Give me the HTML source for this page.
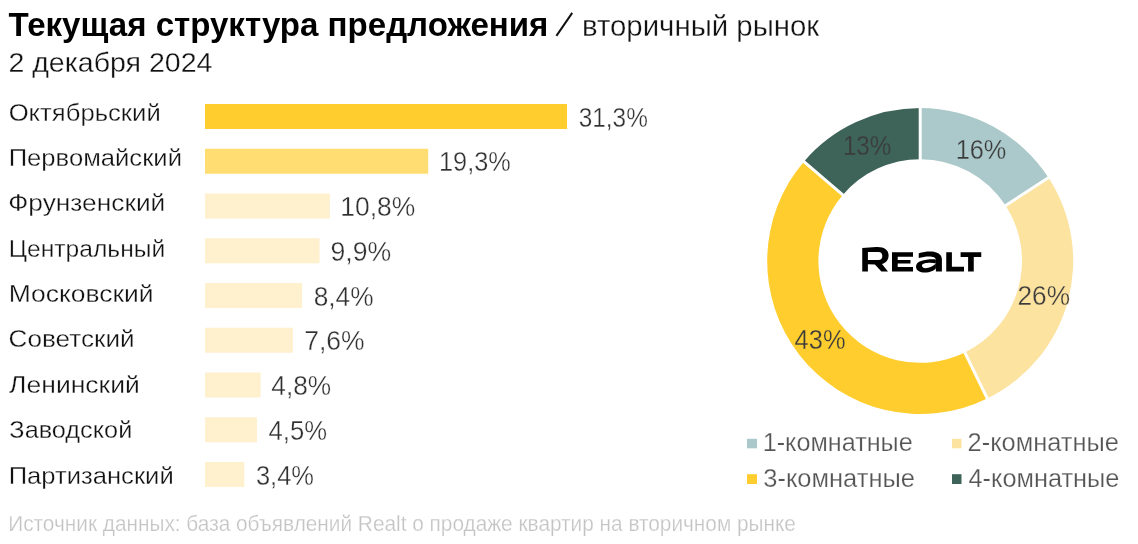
<!DOCTYPE html>
<html lang="ru">
<head>
<meta charset="utf-8">
<title>Текущая структура предложения — вторичный рынок</title>
<style>
html,body{margin:0;padding:0;background:#fff;}
body{width:1138px;height:544px;overflow:hidden;position:relative;font-family:"Liberation Sans",sans-serif;}
svg{position:absolute;left:0;top:0;display:block;will-change:transform;}
text{font-family:"Liberation Sans",sans-serif;}
</style>
</head>
<body>
<svg width="1138" height="544" viewBox="0 0 1138 544">
  <path d="M556.4,35.9 L572.2,12.9" stroke="#111" stroke-width="2.0" fill="none"/>
  <g>
    <rect x="205" y="104.0" width="362.00" height="25" fill="#FFCE2E"/>
    <rect x="205" y="148.75" width="223.20" height="25" fill="#FFDD72"/>
    <rect x="205" y="193.5" width="124.90" height="25" fill="#FFF0CE"/>
    <rect x="205" y="238.25" width="114.50" height="25" fill="#FFF0CE"/>
    <rect x="205" y="283.0" width="97.10" height="25" fill="#FFF0CE"/>
    <rect x="205" y="327.75" width="87.90" height="25" fill="#FFF0CE"/>
    <rect x="205" y="372.5" width="55.50" height="25" fill="#FFF0CE"/>
    <rect x="205" y="417.25" width="52.00" height="25" fill="#FFF0CE"/>
    <rect x="205" y="462.0" width="39.30" height="25" fill="#FFF0CE"/>
  </g>
  <g>
    <path d="M920.20,108.00 A153.00,153.00 0 0 1 1048.52,177.67 L1005.58,205.56 A101.80,101.80 0 0 0 920.20,159.20 Z" fill="#ABC9CA"/>
    <path d="M1048.52,177.67 A153.00,153.00 0 0 1 987.27,398.52 L964.83,352.50 A101.80,101.80 0 0 0 1005.58,205.56 Z" fill="#FDE3A0"/>
    <path d="M987.27,398.52 A153.00,153.00 0 0 1 803.86,161.63 L842.79,194.89 A101.80,101.80 0 0 0 964.83,352.50 Z" fill="#FFCE2E"/>
    <path d="M803.86,161.63 A153.00,153.00 0 0 1 920.20,108.00 L920.20,159.20 A101.80,101.80 0 0 0 842.79,194.89 Z" fill="#3E6358"/>
  </g>
  <g stroke="#fff" stroke-width="3" fill="none">
    <path d="M920.20,162.20 L920.20,105.00"/>
    <path d="M1003.06,207.19 L1051.03,176.04"/>
    <path d="M963.51,349.80 L988.59,401.21"/>
    <path d="M845.07,196.83 L801.58,159.69"/>
  </g>
  <g fill="#000">
    <path fill-rule="evenodd" d="M862.25,247.9 L876.1,247 C884,246.6 888.6,249.5 888.6,255.6 C888.6,260 886,263 882,264 L888,271.4 L881.4,271.4 L874.9,264.4 L867.9,264.3 L867.9,271.4 L862.25,271.4 Z M867.9,252.1 L878.6,251.9 C881,251.9 882.3,253.5 882.3,256 C882.3,258.5 881,260.1 878.6,260.1 L867.9,260.1 Z"/>
    <path fill-rule="evenodd" d="M892,252.3 H913 V256.7 H897.7 V260.1 H910.5 V263.6 H897.7 V267 H913 V271.4 H892 Z"/>
    <path fill-rule="evenodd" d="M918.75,253.3 C922.5,252 926.5,251.4 930,251.4 C937.5,251.4 941.9,254.5 941.9,259.5 V271.4 H935.9 V260 C935.9,257.5 933,256.4 929,256.4 C925.5,256.4 922,257 918.75,258 Z"/>
    <path fill-rule="evenodd" d="M935.9,259.4 C927,258.8 916,260.5 916,266.5 C916,270.5 920,272.6 925,272.6 C930,272.6 934,270.5 935.9,268.5 Z M935.9,263.4 C931,262.4 922,262.6 922,265.6 C922,267.4 923.5,268.3 925.5,268.3 C929.5,268.3 933.5,266 935.9,263.6 Z"/>
    <path fill-rule="evenodd" d="M946.25,252.3 H951.9 V266.7 H964 V271.4 H946.25 Z"/>
    <path fill-rule="evenodd" d="M960.6,252.3 H981.25 V257 H973.75 V271.4 H968.1 V257 H960.6 Z"/>
  </g>
  <rect x="747" y="438.8" width="10" height="9.5" fill="#ABC9CA"/>
  <rect x="952" y="438.8" width="9.5" height="9.5" fill="#FDE3A0"/>
  <rect x="747" y="474.2" width="10" height="9.8" fill="#FFCE2E"/>
  <rect x="952" y="474.2" width="9.5" height="9.8" fill="#3E6358"/>
  <text x="8.64" y="35.90" font-size="32.8" fill="#000" font-weight="bold" textLength="539.77" lengthAdjust="spacingAndGlyphs">Текущая структура предложения</text>
  <text x="581.94" y="35.90" font-size="28.9" fill="#111" stroke="#fff" stroke-width="0.3" textLength="237.28" lengthAdjust="spacingAndGlyphs">вторичный рынок</text>
  <text x="8.42" y="71.50" font-size="28" fill="#111" stroke="#fff" stroke-width="0.3" textLength="204.09" lengthAdjust="spacingAndGlyphs">2 декабря 2024</text>
  <text x="8.70" y="120.50" font-size="24.5" fill="#111" stroke="#fff" stroke-width="0.3" textLength="152.02" lengthAdjust="spacingAndGlyphs">Октябрьский</text>
  <text x="8.69" y="166.00" font-size="24.5" fill="#111" stroke="#fff" stroke-width="0.3" textLength="173.32" lengthAdjust="spacingAndGlyphs">Первомайский</text>
  <text x="8.38" y="211.30" font-size="24.5" fill="#111" stroke="#fff" stroke-width="0.3" textLength="156.90" lengthAdjust="spacingAndGlyphs">Фрунзенский</text>
  <text x="8.88" y="256.80" font-size="24.5" fill="#111" stroke="#fff" stroke-width="0.3" textLength="156.26" lengthAdjust="spacingAndGlyphs">Центральный</text>
  <text x="8.70" y="302.00" font-size="24.5" fill="#111" stroke="#fff" stroke-width="0.3" textLength="144.85" lengthAdjust="spacingAndGlyphs">Московский</text>
  <text x="8.64" y="347.40" font-size="24.5" fill="#111" stroke="#fff" stroke-width="0.3" textLength="126.06" lengthAdjust="spacingAndGlyphs">Советский</text>
  <text x="9.12" y="392.90" font-size="24.5" fill="#111" stroke="#fff" stroke-width="0.3" textLength="130.70" lengthAdjust="spacingAndGlyphs">Ленинский</text>
  <text x="9.38" y="438.30" font-size="24.5" fill="#111" stroke="#fff" stroke-width="0.3" textLength="122.91" lengthAdjust="spacingAndGlyphs">Заводской</text>
  <text x="8.69" y="484.00" font-size="24.5" fill="#111" stroke="#fff" stroke-width="0.3" textLength="165.00" lengthAdjust="spacingAndGlyphs">Партизанский</text>
  <text x="578.72" y="126.70" font-size="27" fill="#303030" stroke="#fff" stroke-width="0.35" textLength="69.09" lengthAdjust="spacingAndGlyphs">31,3%</text>
  <text x="438.97" y="171.45" font-size="27" fill="#303030" stroke="#fff" stroke-width="0.35" textLength="71.81" lengthAdjust="spacingAndGlyphs">19,3%</text>
  <text x="340.25" y="216.20" font-size="27" fill="#303030" stroke="#fff" stroke-width="0.35" textLength="75.00" lengthAdjust="spacingAndGlyphs">10,8%</text>
  <text x="330.48" y="260.95" font-size="27" fill="#303030" stroke="#fff" stroke-width="0.35" textLength="60.69" lengthAdjust="spacingAndGlyphs">9,9%</text>
  <text x="313.69" y="305.70" font-size="27" fill="#303030" stroke="#fff" stroke-width="0.35" textLength="59.93" lengthAdjust="spacingAndGlyphs">8,4%</text>
  <text x="304.28" y="350.45" font-size="27" fill="#303030" stroke="#fff" stroke-width="0.35" textLength="60.43" lengthAdjust="spacingAndGlyphs">7,6%</text>
  <text x="271.34" y="395.20" font-size="27" fill="#303030" stroke="#fff" stroke-width="0.35" textLength="59.84" lengthAdjust="spacingAndGlyphs">4,8%</text>
  <text x="268.50" y="439.95" font-size="27" fill="#303030" stroke="#fff" stroke-width="0.35" textLength="58.51" lengthAdjust="spacingAndGlyphs">4,5%</text>
  <text x="255.88" y="484.70" font-size="27" fill="#303030" stroke="#fff" stroke-width="0.35" textLength="58.09" lengthAdjust="spacingAndGlyphs">3,4%</text>
  <text x="842.89" y="155.00" font-size="27" fill="#3b3b3b" stroke="#3E6358" stroke-width="0.3" textLength="48.43" lengthAdjust="spacingAndGlyphs">13%</text>
  <text x="955.63" y="158.70" font-size="27" fill="#3b3b3b" stroke="#ABC9CA" stroke-width="0.3" textLength="50.66" lengthAdjust="spacingAndGlyphs">16%</text>
  <text x="1017.48" y="304.90" font-size="27" fill="#3b3b3b" stroke="#FDE3A0" stroke-width="0.3" textLength="52.50" lengthAdjust="spacingAndGlyphs">26%</text>
  <text x="794.58" y="348.60" font-size="27" fill="#3b3b3b" stroke="#FFCE2E" stroke-width="0.3" textLength="50.93" lengthAdjust="spacingAndGlyphs">43%</text>
  <text x="762.71" y="451.00" font-size="26" fill="#555" stroke="#fff" stroke-width="0.25" textLength="150.02" lengthAdjust="spacingAndGlyphs">1-комнатные</text>
  <text x="967.62" y="451.00" font-size="26" fill="#555" stroke="#fff" stroke-width="0.25" textLength="151.27" lengthAdjust="spacingAndGlyphs">2-комнатные</text>
  <text x="763.28" y="487.00" font-size="26" fill="#555" stroke="#fff" stroke-width="0.25" textLength="151.70" lengthAdjust="spacingAndGlyphs">3-комнатные</text>
  <text x="968.50" y="487.00" font-size="26" fill="#555" stroke="#fff" stroke-width="0.25" textLength="150.87" lengthAdjust="spacingAndGlyphs">4-комнатные</text>
  <text x="8.20" y="531.00" font-size="21.5" fill="#C4C4C4" stroke="#fff" stroke-width="0.25" textLength="787.73" lengthAdjust="spacingAndGlyphs">Источник данных: база объявлений Realt о продаже квартир на вторичном рынке</text>
</svg>
</body>
</html>
